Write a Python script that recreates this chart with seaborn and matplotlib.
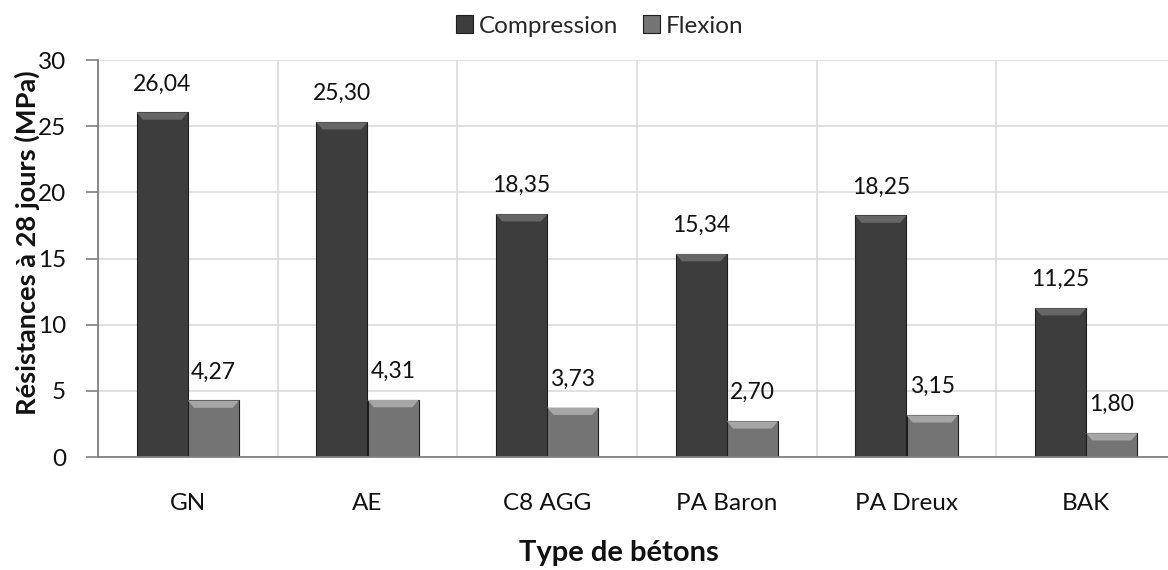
import numpy as np
import pandas as pd
import matplotlib
matplotlib.use("Agg")
import matplotlib.pyplot as plt
from matplotlib.patches import Polygon
import seaborn as sns

categories = ["GN", "AE", "C8 AGG", "PA Baron", "PA Dreux", "BAK"]
compression = [26.04, 25.30, 18.35, 15.34, 18.25, 11.25]
flexion = [4.27, 4.31, 3.73, 2.70, 3.15, 1.80]
series = ["Compression", "Flexion"]
yticks = [0, 5, 10, 15, 20, 25, 30]

df = pd.DataFrame({
    "Type": categories * 2,
    "Essai": [series[0]] * len(categories) + [series[1]] * len(categories),
    "Val": compression + flexion,
})

sns.set_theme(style="white")
plt.rcParams["font.family"] = ["Lato", "DejaVu Sans"]

fig = plt.figure(figsize=(11.68, 5.70), dpi=100)
ax = fig.add_axes([98 / 1168, 113 / 570, 1078 / 1168, 397 / 570])

body = {"Compression": "#3d3d3d", "Flexion": "#747474"}
cap = {"Compression": "#666666", "Flexion": "#a6a6a6"}

sns.barplot(data=df, x="Type", y="Val", hue="Essai", order=categories,
            hue_order=series, palette=[body[s] for s in series],
            width=0.57, edgecolor="#1e1e1e", linewidth=0.8,
            ax=ax, zorder=3, legend=True)

# bevel cap on top of each bar
for cont, s in zip(ax.containers, series):
    for p in cont.patches:
        x, w, h = p.get_x(), p.get_width(), p.get_height()
        ch = 0.55
        ins = 0.035
        poly = Polygon([(x, h), (x + w, h), (x + w - ins, h - ch), (x + ins, h - ch)],
                       closed=True, facecolor=cap[s], edgecolor="none", zorder=4)
        ax.add_patch(poly)

for cont in ax.containers:
    ax.bar_label(cont, labels=[f"{v:.2f}".replace(".", ",") for v in cont.datavalues],
                 padding=13, fontsize=16.5, color="#111111", zorder=5)

ax.set_xlim(-0.5, len(categories) - 0.5)
ax.set_ylim(0, 30)
ax.set_yticks(yticks)
ax.set_yticklabels([str(t) for t in yticks], fontsize=17.5, color="#111111")
ax.set_xticks(range(len(categories)))
ax.set_xticklabels(categories, fontsize=17.5, color="#111111")
ax.set_xticks(np.arange(-0.5, len(categories) + 0.5, 1), minor=True)
ax.tick_params(axis="x", which="major", length=0, pad=26)
ax.tick_params(axis="x", which="minor", length=7, width=1.2, color="#808080", direction="out")
ax.tick_params(axis="y", which="major", length=9, width=1.2, color="#808080", direction="out", pad=14, left=True)

ax.grid(False)
ax.yaxis.grid(True, color="#d9d9d9", linewidth=1.1, zorder=0)
ax.xaxis.grid(True, which="minor", color="#d9d9d9", linewidth=1.1, zorder=0)
ax.set_axisbelow(True)

for side in ["top", "right"]:
    ax.spines[side].set_visible(False)
for side in ["left", "bottom"]:
    ax.spines[side].set_color("#808080")
    ax.spines[side].set_linewidth(1.3)
    ax.spines[side].set_zorder(6)

ax.set_xlabel("")
ax.set_ylabel("")
fig.text(619 / 1168, 1 - 553 / 570, "Type de bétons", ha="center", va="center",
         fontsize=21, fontweight="bold", color="#111111")
fig.text(27 / 1168, 1 - 243 / 570, "Résistances à 28 jours (MPa)", ha="center", va="center",
         rotation=90, fontsize=19.6, fontweight="bold", color="#111111")

handles, labels = ax.get_legend_handles_labels()
ax.legend(handles, labels, loc="center", bbox_to_anchor=(600 / 1168, 1 - 26 / 570),
          bbox_transform=fig.transFigure, ncol=2, frameon=False, fontsize=17.5,
          handlelength=0.7, handleheight=0.7, handletextpad=0.25, columnspacing=1.0)

fig.savefig("out.png", dpi=100)
